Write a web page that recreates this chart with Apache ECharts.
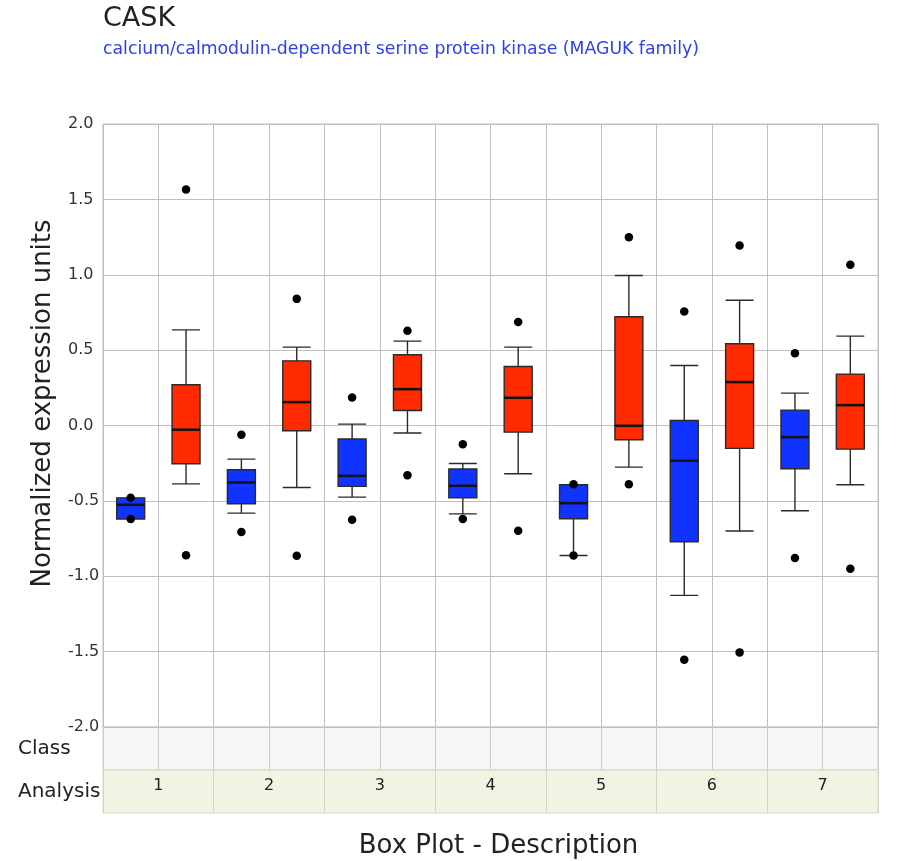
<!DOCTYPE html>
<html>
<head>
<meta charset="utf-8">
<script src="https://cdn.jsdelivr.net/npm/echarts@6/dist/echarts.min.js"></script>
<style>
html,body{margin:0;padding:0;background:#fff;}
#chart{width:915px;height:861px;}
</style>
</head>
<body>
<div id="chart"></div>
<script>
const titleText = 'CASK';
const subtitleText = 'calcium/calmodulin-dependent serine protein kinase (MAGUK family)';
const yAxisTitle = 'Normalized expression units';
const xAxisTitle = 'Box Plot - Description';
const groups = ['1','2','3','4','5','6','7'];
const boxCategories = ['1a','1b','2a','2b','3a','3b','4a','4b','5a','5b','6a','6b','7a','7b'];
const boxClass = ['blue','red','blue','red','blue','red','blue','red','blue','red','blue','red','blue','red'];
const boxMin    = [-0.62, -0.387, -0.581, -0.411, -0.475, -0.05, -0.586, -0.32, -0.862, -0.276, -1.127, -0.70, -0.566, -0.393];
const boxQ1     = [-0.62, -0.254, -0.519, -0.035, -0.404,  0.10, -0.479, -0.044, -0.619, -0.095, -0.771, -0.152, -0.287, -0.157];
const boxMedian = [-0.526, -0.028, -0.378, 0.155, -0.334, 0.241, -0.40, 0.184, -0.515, -0.002, -0.234, 0.288, -0.077, 0.135];
const boxQ3     = [-0.48,  0.27, -0.294, 0.429, -0.09,  0.469, -0.289, 0.391, -0.393, 0.721,  0.033, 0.542, 0.102, 0.341];
const boxMax    = [-0.48,  0.634, -0.223, 0.52,  0.009, 0.56, -0.252, 0.52, -0.393, 0.995,  0.398, 0.831, 0.215, 0.593];
const outlierIndex = [0, 0, 1, 1, 2, 2, 3, 3, 4, 4, 5, 5, 6, 6, 7, 7, 8, 8, 9, 9, 10, 10, 11, 11, 12, 12, 13, 13];
const outlierValue = [-0.48, -0.62, 1.565, -0.86, -0.062, -0.707, 0.84, -0.864, 0.186, -0.625, 0.628, -0.33,
                      -0.124, -0.621, 0.686, -0.698, -0.39, -0.862, 1.249, -0.389, 0.756, -1.554, 1.194, -1.505,
                      0.48, -0.879, 1.066, -0.95];
const yTicks = [-2.0, -1.5, -1.0, -0.5, 0.0, 0.5, 1.0, 1.5, 2.0];
const rowLabels = ['Class', 'Analysis'];

const colors = { blue: '#1133ff', red: '#ff2a00' };
const FONT = 'DejaVu Sans';
const GRIDC = '#bfbfbf';

const boxData = boxCategories.map((c, i) => ({
  value: [boxMin[i], boxQ1[i], boxMedian[i], boxQ3[i], boxMax[i]],
  itemStyle: { color: colors[boxClass[i]], borderColor: '#2a2a2a', borderWidth: 1.4 }
}));
const outlierData = outlierIndex.map((c, i) => [c, outlierValue[i]]);
const medianData = boxMedian.map((m, i) => [i, m]);

const chart = echarts.init(document.getElementById('chart'), null, { renderer: 'canvas' });
chart.setOption({
  animation: false,
  backgroundColor: '#ffffff',
  textStyle: { fontFamily: FONT },
  grid: [
    { left: 103, top: 124, width: 775, height: 603, show: true, borderColor: GRIDC, borderWidth: 1, backgroundColor: '#fff' },
    { left: 103, top: 727, width: 775, height: 43, show: true, borderColor: '#d0d0d0', borderWidth: 1, backgroundColor: '#f6f6f6' },
    { left: 103, top: 770, width: 775, height: 43, show: true, borderColor: '#d6d6c6', borderWidth: 1, backgroundColor: '#f3f3e3' }
  ],
  xAxis: [
    { type: 'category', gridIndex: 0, data: boxCategories, boundaryGap: true,
      axisLine: { show: false }, axisTick: { show: false }, axisLabel: { show: false },
      splitLine: { show: true, lineStyle: { color: GRIDC, width: 1 } } },
    { type: 'category', gridIndex: 1, data: boxCategories, boundaryGap: true,
      axisLine: { show: false }, axisTick: { show: false }, axisLabel: { show: false },
      splitLine: { show: true, lineStyle: { color: '#cdcdcd', width: 1 } } },
    { type: 'category', gridIndex: 2, data: groups, boundaryGap: true, position: 'top',
      axisLine: { show: false }, axisTick: { show: false },
      axisLabel: { show: true, inside: true, margin: 16, verticalAlign: 'middle', fontSize: 16, color: '#222', fontFamily: FONT },
      splitLine: { show: true, lineStyle: { color: '#d4d4c4', width: 1 } } }
  ],
  yAxis: [
    { type: 'value', gridIndex: 0, min: yTicks[0], max: yTicks[yTicks.length - 1], interval: 0.5,
      axisLine: { show: false }, axisTick: { show: false },
      axisLabel: { fontSize: 16, color: '#333', margin: 35, align: 'left', fontFamily: FONT,
        verticalAlign: 'middle', padding: [0, 0, 9, 0],
        formatter: v => v.toFixed(1) },
      splitLine: { show: true, lineStyle: { color: GRIDC, width: 1 } } },
    { type: 'category', gridIndex: 1, data: [rowLabels[0]],
      axisLine: { show: false }, axisTick: { show: false }, splitLine: { show: false },
      axisLabel: { fontSize: 20, color: '#222', align: 'left', margin: 85, fontFamily: FONT, verticalAlign: 'middle', padding: [0, 0, 8, 0] } },
    { type: 'category', gridIndex: 2, data: [rowLabels[1]],
      axisLine: { show: false }, axisTick: { show: false }, splitLine: { show: false },
      axisLabel: { fontSize: 20, color: '#222', align: 'left', margin: 85, fontFamily: FONT, verticalAlign: 'middle', padding: [0, 0, 6, 0] } }
  ],
  series: [
    { type: 'boxplot', xAxisIndex: 0, yAxisIndex: 0, data: boxData, boxWidth: [28, 28] },
    { type: 'custom', xAxisIndex: 0, yAxisIndex: 0, data: medianData,
      renderItem: function (params, api) {
        const c = api.coord([api.value(0), api.value(1)]);
        const half = 14;
        return { type: 'line', shape: { x1: c[0] - half, y1: c[1], x2: c[0] + half, y2: c[1] },
          style: { stroke: '#111', lineWidth: 2.5 } };
      }, z: 5 },
    { type: 'scatter', xAxisIndex: 0, yAxisIndex: 0, data: outlierData, symbol: 'circle', symbolSize: 8.5,
      itemStyle: { color: '#000', opacity: 1 }, z: 6 }
  ],
  graphic: [
    { type: 'text', x: 103, y: 19.4,
      style: { text: titleText, font: '27px "DejaVu Sans"', fill: '#222', textAlign: 'left', textVerticalAlign: 'middle' } },
    { type: 'text', x: 103, y: 50,
      style: { text: subtitleText, font: '17.3px "DejaVu Sans"', fill: '#2e3ff0', textAlign: 'left', textVerticalAlign: 'middle' } },
    { type: 'text', x: 43, y: 403.5, rotation: Math.PI / 2,
      style: { text: yAxisTitle, font: '26px "DejaVu Sans"', fill: '#222', textAlign: 'center', textVerticalAlign: 'middle' } },
    { type: 'text', x: 498.5, y: 846.3,
      style: { text: xAxisTitle, font: '26px "DejaVu Sans"', fill: '#222', textAlign: 'center', textVerticalAlign: 'middle' } }
  ]
});
</script>
</body>
</html>
